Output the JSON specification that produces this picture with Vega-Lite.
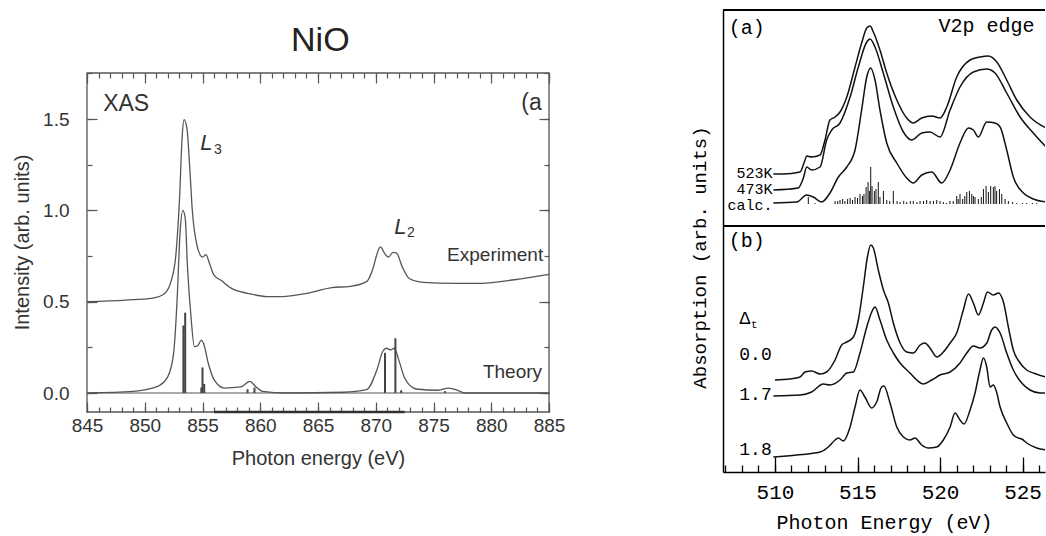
{
"$schema": "https://vega.github.io/schema/vega-lite/v6.json",
"background": "white",
"padding": {"left": 12, "top": 9, "right": 0, "bottom": 2},
"config": {"view": {"stroke": null}, "axis": {"grid": false}},
"bounds": "flush",
"spacing": 174,
"hconcat": [
{
"width": 462, "height": 402,
"resolve": {"axis": {"x": "independent", "y": "independent"}},
"layer": [
{
"data": {"values": [
{"s":"Experiment","e":845,"v":0.5},{"s":"Experiment","e":848.4,"v":0.509},{"s":"Experiment","e":850.7,"v":0.52},{"s":"Experiment","e":851.7,"v":0.544},{"s":"Experiment","e":852.3,"v":0.617},{"s":"Experiment","e":852.7,"v":0.76},{"s":"Experiment","e":853.0,"v":1.05},{"s":"Experiment","e":853.25,"v":1.415},{"s":"Experiment","e":853.4,"v":1.497},{"s":"Experiment","e":853.65,"v":1.45},{"s":"Experiment","e":853.9,"v":1.23},{"s":"Experiment","e":854.1,"v":1.016},{"s":"Experiment","e":854.5,"v":0.815},{"s":"Experiment","e":855.0,"v":0.744},{"s":"Experiment","e":855.3,"v":0.758},{"s":"Experiment","e":855.6,"v":0.71},{"s":"Experiment","e":856.0,"v":0.645},{"s":"Experiment","e":856.6,"v":0.617},{"s":"Experiment","e":857.6,"v":0.57},{"s":"Experiment","e":858.9,"v":0.546},{"s":"Experiment","e":860.6,"v":0.528},{"s":"Experiment","e":861.9,"v":0.528},{"s":"Experiment","e":863.9,"v":0.544},{"s":"Experiment","e":866.2,"v":0.577},{"s":"Experiment","e":867.8,"v":0.584},{"s":"Experiment","e":869.2,"v":0.61},{"s":"Experiment","e":869.8,"v":0.69},{"s":"Experiment","e":870.1,"v":0.76},{"s":"Experiment","e":870.4,"v":0.8},{"s":"Experiment","e":870.8,"v":0.762},{"s":"Experiment","e":871.1,"v":0.744},{"s":"Experiment","e":871.5,"v":0.77},{"s":"Experiment","e":871.8,"v":0.766},{"s":"Experiment","e":872.3,"v":0.69},{"s":"Experiment","e":872.9,"v":0.627},{"s":"Experiment","e":873.8,"v":0.608},{"s":"Experiment","e":875.4,"v":0.602},{"s":"Experiment","e":878.7,"v":0.6},{"s":"Experiment","e":882.0,"v":0.62},{"s":"Experiment","e":885,"v":0.65},
{"s":"Theory","e":845,"v":0},{"s":"Theory","e":849,"v":0.009},{"s":"Theory","e":851,"v":0.033},{"s":"Theory","e":852,"v":0.09},{"s":"Theory","e":852.5,"v":0.218},{"s":"Theory","e":852.8,"v":0.508},{"s":"Theory","e":853.05,"v":0.87},{"s":"Theory","e":853.3,"v":1.0},{"s":"Theory","e":853.5,"v":0.96},{"s":"Theory","e":853.7,"v":0.69},{"s":"Theory","e":854.0,"v":0.42},{"s":"Theory","e":854.3,"v":0.254},{"s":"Theory","e":854.6,"v":0.26},{"s":"Theory","e":854.9,"v":0.29},{"s":"Theory","e":855.1,"v":0.27},{"s":"Theory","e":855.5,"v":0.163},{"s":"Theory","e":856.0,"v":0.073},{"s":"Theory","e":856.9,"v":0.027},{"s":"Theory","e":858.3,"v":0.033},{"s":"Theory","e":859.1,"v":0.064},{"s":"Theory","e":859.6,"v":0.036},{"s":"Theory","e":860.2,"v":0.009},{"s":"Theory","e":862.2,"v":0},{"s":"Theory","e":867.2,"v":0.004},{"s":"Theory","e":869.2,"v":0.018},{"s":"Theory","e":870.1,"v":0.127},{"s":"Theory","e":870.6,"v":0.227},{"s":"Theory","e":870.9,"v":0.245},{"s":"Theory","e":871.3,"v":0.236},{"s":"Theory","e":871.6,"v":0.245},{"s":"Theory","e":872.0,"v":0.18},{"s":"Theory","e":872.5,"v":0.082},{"s":"Theory","e":873.5,"v":0.022},{"s":"Theory","e":875.4,"v":0.015},{"s":"Theory","e":876.3,"v":0.027},{"s":"Theory","e":877.1,"v":0.015},{"s":"Theory","e":877.7,"v":0},{"s":"Theory","e":885,"v":0}
]},
"mark": {"type": "line", "color": "#555", "strokeWidth": 1.3, "interpolate": "monotone"},
"encoding": {
"x": {"field": "e", "type": "quantitative", "scale": {"domain": [845, 885], "nice": false, "zero": false},
"axis": {"orient": "bottom", "values": [845,850,855,860,865,870,875,880,885], "domain": false, "labelOverlap": false, "ticks": false, "tickSize": 0,
"labelFont": "Liberation Sans", "labelFontSize": 19, "labelColor": "#333", "labelPadding": 4, "labelFlush": false,
"title": "Photon energy (eV)", "titleFont": "Liberation Sans", "titleFontSize": 20, "titleFontWeight": "normal", "titleColor": "#333", "titlePadding": 13}},
"y": {"field": "v", "type": "quantitative", "scale": {"domain": [-0.104, 2.097], "nice": false, "zero": false},
"axis": {"orient": "left", "values": [0,0.5,1,1.5], "format": ".1f", "domain": false, "labelOverlap": false, "ticks": false, "tickSize": 0,
"labelFont": "Liberation Sans", "labelFontSize": 19, "labelColor": "#333", "labelPadding": 18, "labelFlush": false,
"title": "Intensity (arb. units)", "titleFont": "Liberation Sans", "titleFontSize": 20, "titleFontWeight": "normal", "titleColor": "#333",
"titleX": -65, "titleY": 232, "titleBaseline": "middle", "titleAlign": "center", "titleAngle": -90}},
"detail": {"field": "s"}
}
},
{
"data": {"values": [{"e":853.35,"h":0.37},{"e":853.5,"h":0.44},{"e":854.9,"h":0.03},{"e":855.0,"h":0.14},{"e":855.15,"h":0.05},{"e":858.9,"h":0.02},{"e":859.5,"h":0.03},{"e":870.8,"h":0.22},{"e":871.7,"h":0.3},{"e":872.2,"h":0.015},{"e":876.0,"h":0.01}]},
"mark": {"type": "rule", "color": "#444", "strokeWidth": 2},
"encoding": {
"x": {"field": "e", "type": "quantitative", "axis": {"orient": "bottom", "offset": -5, "tickSize": 5, "values": [845,846,847,848,849,850,851,852,853,854,855,856,857,858,859,860,861,862,863,864,865,866,867,868,869,870,871,872,873,874,875,876,877,878,879,880,881,882,883,884,885], "labels": false, "domain": false, "title": null, "tickColor": "#555", "tickWidth": 1.2}},
"y": {"field": "h", "type": "quantitative", "axis": {"orient": "left", "offset": -5, "tickSize": 5, "values": [0,0.25,0.5,0.75,1,1.25,1.5,1.75], "labels": false, "domain": false, "title": null, "tickColor": "#555", "tickWidth": 1.2}},
"y2": {"datum": 0}}
},
{
"data": {"values": [{}]},
"mark": {"type": "rule", "color": "#555", "strokeWidth": 1.2},
"encoding": {"y": {"datum": 0, "type": "quantitative", "axis": {"orient": "right", "offset": -5, "tickSize": 5, "values": [0,0.25,0.5,0.75,1,1.25,1.5,1.75], "labels": false, "domain": false, "title": null, "tickColor": "#555", "tickWidth": 1.2}}}
},
{
"data": {"values": [{}]},
"mark": {"type": "rect", "fill": null, "stroke": "#555", "strokeWidth": 1.3},
"encoding": {
"x": {"datum": 845, "type": "quantitative", "axis": {"orient": "top", "offset": -68, "tickSize": 5, "values": [845,846,847,848,849,850,851,852,853,854,855,856,857,858,859,860,861,862,863,864,865,866,867,868,869,870,871,872,873,874,875,876,877,878,879,880,881,882,883,884,885], "labels": false, "domain": false, "title": null, "tickColor": "#555", "tickWidth": 1.2}},
"x2": {"datum": 885},
"y": {"datum": 1.752, "type": "quantitative", "axis": {"orient": "right", "offset": -10, "tickSize": 10, "values": [0,0.5,1,1.5], "labels": false, "domain": false, "title": null, "tickColor": "#555", "tickWidth": 1.2}},
"y2": {"datum": -0.104}
}
},
{
"data": {"values": [{}]},
"mark": {"type": "rule", "color": "#333", "strokeWidth": 2.5},
"encoding": {
"x": {"datum": 856, "type": "quantitative", "axis": {"orient": "top", "offset": -73, "tickSize": 10, "values": [845,850,855,860,865,870,875,880,885], "labels": false, "domain": false, "title": null, "tickColor": "#555", "tickWidth": 1.2}},
"x2": {"datum": 872.5},
"y": {"datum": -0.104, "type": "quantitative", "axis": {"orient": "left", "offset": -10, "tickSize": 10, "values": [0,0.5,1,1.5], "labels": false, "domain": false, "title": null, "tickColor": "#555", "tickWidth": 1.2}}}
},
{
"data": {"values": [{"t":"XAS","e":846.4,"v":1.58},{"t":"(a","e":882.6,"v":1.59}]},
"mark": {"type": "text", "align": "left", "baseline": "middle", "font": "Liberation Sans", "fontSize": 23, "color": "#333"},
"encoding": {
"x": {"field": "e", "type": "quantitative", "axis": {"orient": "bottom", "offset": -10, "tickSize": 10, "values": [845,850,855,860,865,870,875,880,885], "labels": false, "domain": false, "title": null, "tickColor": "#555", "tickWidth": 1.2}},
"y": {"field": "v", "type": "quantitative", "axis": null}, "text": {"field": "t"}}
},
{
"data": {"values": [{"t":"Experiment","e":884.5,"v":0.755},{"t":"Theory","e":884.4,"v":0.117}]},
"mark": {"type": "text", "align": "right", "baseline": "middle", "font": "Liberation Sans", "fontSize": 19, "color": "#333"},
"encoding": {"x": {"field": "e", "type": "quantitative", "axis": null}, "y": {"field": "v", "type": "quantitative", "axis": null}, "text": {"field": "t"}}
},
{
"data": {"values": [{"t":"NiO","e":865.2,"v":1.93}]},
"mark": {"type": "text", "align": "center", "baseline": "middle", "font": "Liberation Sans", "fontSize": 34, "color": "#222"},
"encoding": {"x": {"field": "e", "type": "quantitative", "axis": null}, "y": {"field": "v", "type": "quantitative", "axis": null}, "text": {"field": "t"}}
},
{
"data": {"values": [{"t":"L","e":854.8,"v":1.37},{"t":"L","e":871.6,"v":0.91}]},
"mark": {"type": "text", "align": "left", "baseline": "middle", "font": "Liberation Sans", "fontSize": 22, "fontStyle": "italic", "color": "#333"},
"encoding": {"x": {"field": "e", "type": "quantitative", "axis": null}, "y": {"field": "v", "type": "quantitative", "axis": null}, "text": {"field": "t"}}
},
{
"data": {"values": [{"t":"3","e":856.0,"v":1.33},{"t":"2","e":872.7,"v":0.876}]},
"mark": {"type": "text", "align": "left", "baseline": "middle", "font": "Liberation Sans", "fontSize": 14, "color": "#333"},
"encoding": {"x": {"field": "e", "type": "quantitative", "axis": null}, "y": {"field": "v", "type": "quantitative", "axis": null}, "text": {"field": "t"}}
}
]
},
{
"width": 322, "height": 462,
"resolve": {"axis": {"x": "independent", "y": "independent"}},
"layer": [
{
"data": {"values": [
{"s":"523K","e":509.9,"a":2.98},{"s":"523K","e":510.5,"a":2.98},{"s":"523K","e":511.52,"a":3.0},{"s":"523K","e":511.82,"a":3.12},{"s":"523K","e":511.92,"a":3.16},{"s":"523K","e":512.22,"a":3.15},{"s":"523K","e":512.73,"a":3.17},{"s":"523K","e":513.03,"a":3.32},{"s":"523K","e":513.33,"a":3.52},{"s":"523K","e":513.64,"a":3.55},{"s":"523K","e":513.94,"a":3.6},{"s":"523K","e":514.35,"a":3.75},{"s":"523K","e":514.85,"a":4.05},{"s":"523K","e":515.25,"a":4.29},{"s":"523K","e":515.56,"a":4.44},{"s":"523K","e":515.76,"a":4.46},{"s":"523K","e":515.96,"a":4.4},{"s":"523K","e":516.36,"a":4.22},{"s":"523K","e":516.77,"a":3.99},{"s":"523K","e":517.38,"a":3.72},{"s":"523K","e":517.98,"a":3.54},{"s":"523K","e":518.38,"a":3.49},{"s":"523K","e":518.89,"a":3.54},{"s":"523K","e":519.5,"a":3.56},{"s":"523K","e":520.0,"a":3.54},{"s":"523K","e":520.41,"a":3.65},{"s":"523K","e":521.01,"a":3.95},{"s":"523K","e":521.82,"a":4.12},{"s":"523K","e":522.42,"a":4.15},{"s":"523K","e":522.93,"a":4.16},{"s":"523K","e":523.44,"a":4.1},{"s":"523K","e":524.04,"a":3.92},{"s":"523K","e":524.65,"a":3.72},{"s":"523K","e":525.45,"a":3.55},{"s":"523K","e":526.42,"a":3.44},
{"s":"473K","e":509.9,"a":2.82},{"s":"473K","e":511.41,"a":2.84},{"s":"473K","e":511.72,"a":2.94},{"s":"473K","e":511.92,"a":3.05},{"s":"473K","e":512.22,"a":3.02},{"s":"473K","e":512.73,"a":3.05},{"s":"473K","e":513.13,"a":3.32},{"s":"473K","e":513.44,"a":3.42},{"s":"473K","e":513.94,"a":3.49},{"s":"473K","e":514.55,"a":3.75},{"s":"473K","e":515.05,"a":4.05},{"s":"473K","e":515.56,"a":4.3},{"s":"473K","e":515.76,"a":4.33},{"s":"473K","e":516.06,"a":4.25},{"s":"473K","e":516.56,"a":3.99},{"s":"473K","e":517.17,"a":3.65},{"s":"473K","e":517.78,"a":3.4},{"s":"473K","e":518.28,"a":3.32},{"s":"473K","e":518.89,"a":3.39},{"s":"473K","e":519.39,"a":3.4},{"s":"473K","e":520.0,"a":3.35},{"s":"473K","e":520.61,"a":3.62},{"s":"473K","e":521.21,"a":3.85},{"s":"473K","e":522.02,"a":4.0},{"s":"473K","e":522.83,"a":4.03},{"s":"473K","e":523.33,"a":3.99},{"s":"473K","e":524.04,"a":3.79},{"s":"473K","e":524.85,"a":3.55},{"s":"473K","e":525.65,"a":3.39},{"s":"473K","e":526.42,"a":3.25},
{"s":"calc","e":509.9,"a":2.69},{"s":"calc","e":511.32,"a":2.7},{"s":"calc","e":511.92,"a":2.77},{"s":"calc","e":512.32,"a":2.75},{"s":"calc","e":512.83,"a":2.7},{"s":"calc","e":513.33,"a":2.79},{"s":"calc","e":513.84,"a":2.95},{"s":"calc","e":514.35,"a":3.05},{"s":"calc","e":514.85,"a":3.22},{"s":"calc","e":515.25,"a":3.62},{"s":"calc","e":515.56,"a":3.95},{"s":"calc","e":515.8,"a":4.04},{"s":"calc","e":516.06,"a":3.92},{"s":"calc","e":516.36,"a":3.62},{"s":"calc","e":516.77,"a":3.29},{"s":"calc","e":517.38,"a":3.09},{"s":"calc","e":517.98,"a":2.94},{"s":"calc","e":518.38,"a":2.89},{"s":"calc","e":518.89,"a":2.97},{"s":"calc","e":519.5,"a":3.0},{"s":"calc","e":520.1,"a":2.89},{"s":"calc","e":520.61,"a":3.02},{"s":"calc","e":521.21,"a":3.29},{"s":"calc","e":521.72,"a":3.44},{"s":"calc","e":522.02,"a":3.42},{"s":"calc","e":522.32,"a":3.35},{"s":"calc","e":522.83,"a":3.5},{"s":"calc","e":523.33,"a":3.49},{"s":"calc","e":523.64,"a":3.45},{"s":"calc","e":524.04,"a":3.22},{"s":"calc","e":524.44,"a":2.95},{"s":"calc","e":525.05,"a":2.79},{"s":"calc","e":525.65,"a":2.73},{"s":"calc","e":526.42,"a":2.7},
{"s":"0.0","e":510.0,"a":0.92},{"s":"0.0","e":510.91,"a":0.93},{"s":"0.0","e":511.52,"a":0.95},{"s":"0.0","e":511.82,"a":1.0},{"s":"0.0","e":512.22,"a":1.01},{"s":"0.0","e":512.73,"a":0.98},{"s":"0.0","e":513.13,"a":1.0},{"s":"0.0","e":513.64,"a":1.12},{"s":"0.0","e":514.04,"a":1.27},{"s":"0.0","e":514.35,"a":1.3},{"s":"0.0","e":514.75,"a":1.35},{"s":"0.0","e":515.05,"a":1.52},{"s":"0.0","e":515.35,"a":1.85},{"s":"0.0","e":515.6,"a":2.15},{"s":"0.0","e":515.8,"a":2.27},{"s":"0.0","e":515.96,"a":2.24},{"s":"0.0","e":516.26,"a":2.02},{"s":"0.0","e":516.57,"a":1.82},{"s":"0.0","e":516.87,"a":1.69},{"s":"0.0","e":517.17,"a":1.49},{"s":"0.0","e":517.58,"a":1.29},{"s":"0.0","e":517.98,"a":1.2},{"s":"0.0","e":518.38,"a":1.19},{"s":"0.0","e":518.79,"a":1.27},{"s":"0.0","e":519.09,"a":1.29},{"s":"0.0","e":519.39,"a":1.24},{"s":"0.0","e":519.8,"a":1.15},{"s":"0.0","e":520.2,"a":1.2},{"s":"0.0","e":520.61,"a":1.29},{"s":"0.0","e":521.01,"a":1.39},{"s":"0.0","e":521.41,"a":1.62},{"s":"0.0","e":521.72,"a":1.78},{"s":"0.0","e":522.02,"a":1.69},{"s":"0.0","e":522.32,"a":1.57},{"s":"0.0","e":522.63,"a":1.69},{"s":"0.0","e":522.87,"a":1.8},{"s":"0.0","e":523.23,"a":1.77},{"s":"0.0","e":523.54,"a":1.79},{"s":"0.0","e":523.84,"a":1.7},{"s":"0.0","e":524.14,"a":1.45},{"s":"0.0","e":524.44,"a":1.22},{"s":"0.0","e":524.85,"a":1.09},{"s":"0.0","e":525.25,"a":1.02},{"s":"0.0","e":525.65,"a":0.99},{"s":"0.0","e":526.42,"a":0.95},
{"s":"1.7","e":509.9,"a":0.76},{"s":"1.7","e":511.52,"a":0.77},{"s":"1.7","e":512.22,"a":0.8},{"s":"1.7","e":512.93,"a":0.88},{"s":"1.7","e":513.33,"a":0.87},{"s":"1.7","e":513.94,"a":0.92},{"s":"1.7","e":514.35,"a":0.99},{"s":"1.7","e":514.75,"a":1.0},{"s":"1.7","e":515.15,"a":1.19},{"s":"1.7","e":515.56,"a":1.45},{"s":"1.7","e":515.86,"a":1.6},{"s":"1.7","e":516.06,"a":1.65},{"s":"1.7","e":516.36,"a":1.52},{"s":"1.7","e":516.77,"a":1.32},{"s":"1.7","e":517.17,"a":1.19},{"s":"1.7","e":517.58,"a":1.09},{"s":"1.7","e":518.18,"a":0.99},{"s":"1.7","e":518.59,"a":0.92},{"s":"1.7","e":518.99,"a":0.88},{"s":"1.7","e":519.5,"a":0.92},{"s":"1.7","e":520.0,"a":0.97},{"s":"1.7","e":520.61,"a":1.0},{"s":"1.7","e":521.21,"a":1.09},{"s":"1.7","e":521.62,"a":1.19},{"s":"1.7","e":522.02,"a":1.26},{"s":"1.7","e":522.42,"a":1.24},{"s":"1.7","e":522.83,"a":1.29},{"s":"1.7","e":523.13,"a":1.42},{"s":"1.7","e":523.33,"a":1.45},{"s":"1.7","e":523.64,"a":1.39},{"s":"1.7","e":524.04,"a":1.19},{"s":"1.7","e":524.44,"a":1.02},{"s":"1.7","e":524.95,"a":0.89},{"s":"1.7","e":525.45,"a":0.82},{"s":"1.7","e":526.06,"a":0.79},{"s":"1.7","e":526.42,"a":0.79},
{"s":"1.8","e":509.9,"a":0.15},{"s":"1.8","e":511.31,"a":0.17},{"s":"1.8","e":512.73,"a":0.2},{"s":"1.8","e":513.23,"a":0.25},{"s":"1.8","e":513.64,"a":0.32},{"s":"1.8","e":513.84,"a":0.34},{"s":"1.8","e":514.14,"a":0.31},{"s":"1.8","e":514.55,"a":0.45},{"s":"1.8","e":514.85,"a":0.65},{"s":"1.8","e":515.15,"a":0.82},{"s":"1.8","e":515.45,"a":0.75},{"s":"1.8","e":515.86,"a":0.64},{"s":"1.8","e":516.16,"a":0.7},{"s":"1.8","e":516.46,"a":0.85},{"s":"1.8","e":516.6,"a":0.86},{"s":"1.8","e":516.97,"a":0.69},{"s":"1.8","e":517.38,"a":0.45},{"s":"1.8","e":517.78,"a":0.35},{"s":"1.8","e":518.18,"a":0.32},{"s":"1.8","e":518.48,"a":0.34},{"s":"1.8","e":518.89,"a":0.27},{"s":"1.8","e":519.29,"a":0.24},{"s":"1.8","e":519.8,"a":0.25},{"s":"1.8","e":520.2,"a":0.32},{"s":"1.8","e":520.61,"a":0.45},{"s":"1.8","e":520.91,"a":0.59},{"s":"1.8","e":521.21,"a":0.52},{"s":"1.8","e":521.45,"a":0.48},{"s":"1.8","e":521.82,"a":0.62},{"s":"1.8","e":522.12,"a":0.79},{"s":"1.8","e":522.42,"a":1.02},{"s":"1.8","e":522.63,"a":1.14},{"s":"1.8","e":522.83,"a":1.05},{"s":"1.8","e":523.03,"a":0.85},{"s":"1.8","e":523.23,"a":0.87},{"s":"1.8","e":523.39,"a":0.82},{"s":"1.8","e":523.64,"a":0.65},{"s":"1.8","e":524.04,"a":0.49},{"s":"1.8","e":524.44,"a":0.37},{"s":"1.8","e":524.75,"a":0.34},{"s":"1.8","e":524.95,"a":0.33},{"s":"1.8","e":525.25,"a":0.29},{"s":"1.8","e":525.86,"a":0.24},{"s":"1.8","e":526.42,"a":0.22}
]},
"mark": {"type": "line", "color": "#111", "strokeWidth": 1.5, "interpolate": "monotone", "clip": true},
"encoding": {
"x": {"field": "e", "type": "quantitative", "scale": {"domain": [506.85, 526.36], "nice": false, "zero": false},
"axis": {"orient": "bottom", "values": [510,515,520,525], "domain": true, "domainColor": "black", "domainWidth": 1.5, "labelOverlap": false, "labelBound": false, "ticks": false, "tickSize": 0,
"labelFont": "Liberation Mono", "labelFontSize": 21, "labelColor": "black", "labelPadding": 9, "labelFlush": false,
"title": "Photon Energy (eV)", "titleFont": "Liberation Mono", "titleFontSize": 20, "titleFontWeight": "normal", "titleColor": "black", "titlePadding": 10}},
"y": {"field": "a", "type": "quantitative", "scale": {"domain": [0, 4.62], "nice": false, "zero": false},
"axis": {"orient": "left", "ticks": false, "labels": false, "domain": true, "domainColor": "black", "domainWidth": 1.5,
"title": "Absorption (arb. units)", "titleFont": "Liberation Mono", "titleFontSize": 19, "titleFontWeight": "normal", "titleColor": "black",
"titleX": -24, "titleY": 247, "titleBaseline": "middle", "titleAlign": "center", "titleAngle": -90}},
"detail": {"field": "s"}
}
},
{
"data": {"values": [
{"e":512.02,"top":2.75},{"e":512.42,"top":2.69},{"e":513.64,"top":2.71},{"e":513.8,"top":2.71},{"e":513.94,"top":2.72},{"e":514.1,"top":2.73},{"e":514.24,"top":2.71},{"e":514.4,"top":2.73},{"e":514.55,"top":2.74},{"e":514.7,"top":2.72},{"e":514.85,"top":2.75},{"e":515.0,"top":2.74},{"e":515.15,"top":2.78},{"e":515.3,"top":2.76},{"e":515.39,"top":2.78},{"e":515.52,"top":2.85},{"e":515.64,"top":2.9},{"e":515.72,"top":2.81},{"e":515.8,"top":3.05},{"e":515.88,"top":2.86},{"e":516.02,"top":2.81},{"e":516.12,"top":2.83},{"e":516.26,"top":2.9},{"e":516.36,"top":2.75},{"e":516.57,"top":2.81},{"e":516.77,"top":2.72},{"e":516.95,"top":2.71},{"e":517.17,"top":2.81},{"e":517.4,"top":2.71},{"e":517.58,"top":2.7},{"e":517.8,"top":2.71},{"e":517.98,"top":2.7},{"e":518.2,"top":2.71},{"e":518.38,"top":2.71},{"e":518.6,"top":2.7},{"e":518.79,"top":2.71},{"e":519.0,"top":2.71},{"e":519.19,"top":2.72},{"e":519.4,"top":2.71},{"e":519.6,"top":2.71},{"e":519.8,"top":2.72},{"e":520.0,"top":2.71},{"e":520.2,"top":2.7},{"e":520.4,"top":2.69},{"e":520.6,"top":2.71},{"e":520.8,"top":2.71},{"e":521.01,"top":2.76},{"e":521.1,"top":2.73},{"e":521.21,"top":2.78},{"e":521.37,"top":2.73},{"e":521.5,"top":2.76},{"e":521.62,"top":2.8},{"e":521.78,"top":2.81},{"e":521.92,"top":2.78},{"e":522.02,"top":2.76},{"e":522.12,"top":2.75},{"e":522.32,"top":2.73},{"e":522.5,"top":2.75},{"e":522.63,"top":2.83},{"e":522.79,"top":2.86},{"e":522.93,"top":2.8},{"e":523.07,"top":2.86},{"e":523.23,"top":2.85},{"e":523.33,"top":2.86},{"e":523.43,"top":2.81},{"e":523.6,"top":2.83},{"e":523.74,"top":2.78},{"e":523.94,"top":2.73},{"e":524.14,"top":2.71},{"e":524.4,"top":2.7},{"e":524.65,"top":2.69},{"e":525.0,"top":2.69},{"e":525.25,"top":2.69},{"e":525.6,"top":2.69},{"e":525.86,"top":2.69}
]},
"mark": {"type": "rule", "color": "#111", "strokeWidth": 1},
"encoding": {
"x": {"field": "e", "type": "quantitative", "axis": {"orient": "bottom", "offset": -7, "tickSize": 7, "values": [507,508,509,510,511,512,513,514,515,516,517,518,519,520,521,522,523,524,525,526], "labels": false, "domain": false, "title": null, "tickColor": "black", "tickWidth": 1.3}},
"y": {"field": "top", "type": "quantitative", "axis": null}, "y2": {"datum": 2.68}}
},
{
"data": {"values": [{}]},
"mark": {"type": "rule", "color": "black", "strokeWidth": 2},
"encoding": {"y": {"datum": 2.46, "type": "quantitative", "axis": null}}
},
{
"data": {"values": [{}]},
"mark": {"type": "rule", "color": "black", "strokeWidth": 2},
"encoding": {"y": {"datum": 4.62, "type": "quantitative", "axis": null}}
},
{
"data": {"values": [{"t":"523K","e":509.85,"a":2.99},{"t":"473K","e":509.85,"a":2.83},{"t":"calc.","e":509.85,"a":2.67}]},
"mark": {"type": "text", "align": "right", "baseline": "middle", "font": "Liberation Mono", "fontSize": 15, "color": "black"},
"encoding": {
"x": {"field": "e", "type": "quantitative", "axis": {"orient": "bottom", "offset": -15, "tickSize": 15, "values": [510,515,520,525], "labels": false, "domain": false, "title": null, "tickColor": "black", "tickWidth": 1.3}},
"y": {"field": "a", "type": "quantitative", "axis": null}, "text": {"field": "t"}}
},
{
"data": {"values": [{"t":"0.0","e":509.8,"a":1.17},{"t":"1.7","e":509.8,"a":0.77},{"t":"1.8","e":509.8,"a":0.22}]},
"mark": {"type": "text", "align": "right", "baseline": "middle", "font": "Liberation Mono", "fontSize": 18, "color": "black"},
"encoding": {"x": {"field": "e", "type": "quantitative", "axis": null}, "y": {"field": "a", "type": "quantitative", "axis": null}, "text": {"field": "t"}}
},
{
"data": {"values": [{"t":"(a)","e":507.2,"a":4.44},{"t":"(b)","e":507.2,"a":2.31},{"t":"V2p edge","e":519.9,"a":4.46}]},
"mark": {"type": "text", "align": "left", "baseline": "middle", "font": "Liberation Mono", "fontSize": 20, "color": "black"},
"encoding": {"x": {"field": "e", "type": "quantitative", "axis": null}, "y": {"field": "a", "type": "quantitative", "axis": null}, "text": {"field": "t"}}
},
{
"data": {"values": [{"t":"Δ","e":507.85,"a":1.53}]},
"mark": {"type": "text", "align": "left", "baseline": "middle", "font": "Liberation Mono", "fontSize": 18, "color": "black"},
"encoding": {"x": {"field": "e", "type": "quantitative", "axis": null}, "y": {"field": "a", "type": "quantitative", "axis": null}, "text": {"field": "t"}}
},
{
"data": {"values": [{"t":"t","e":508.55,"a":1.47}]},
"mark": {"type": "text", "align": "left", "baseline": "middle", "font": "Liberation Mono", "fontSize": 11, "color": "black"},
"encoding": {"x": {"field": "e", "type": "quantitative", "axis": null}, "y": {"field": "a", "type": "quantitative", "axis": null}, "text": {"field": "t"}}
}
]
}
]
}
